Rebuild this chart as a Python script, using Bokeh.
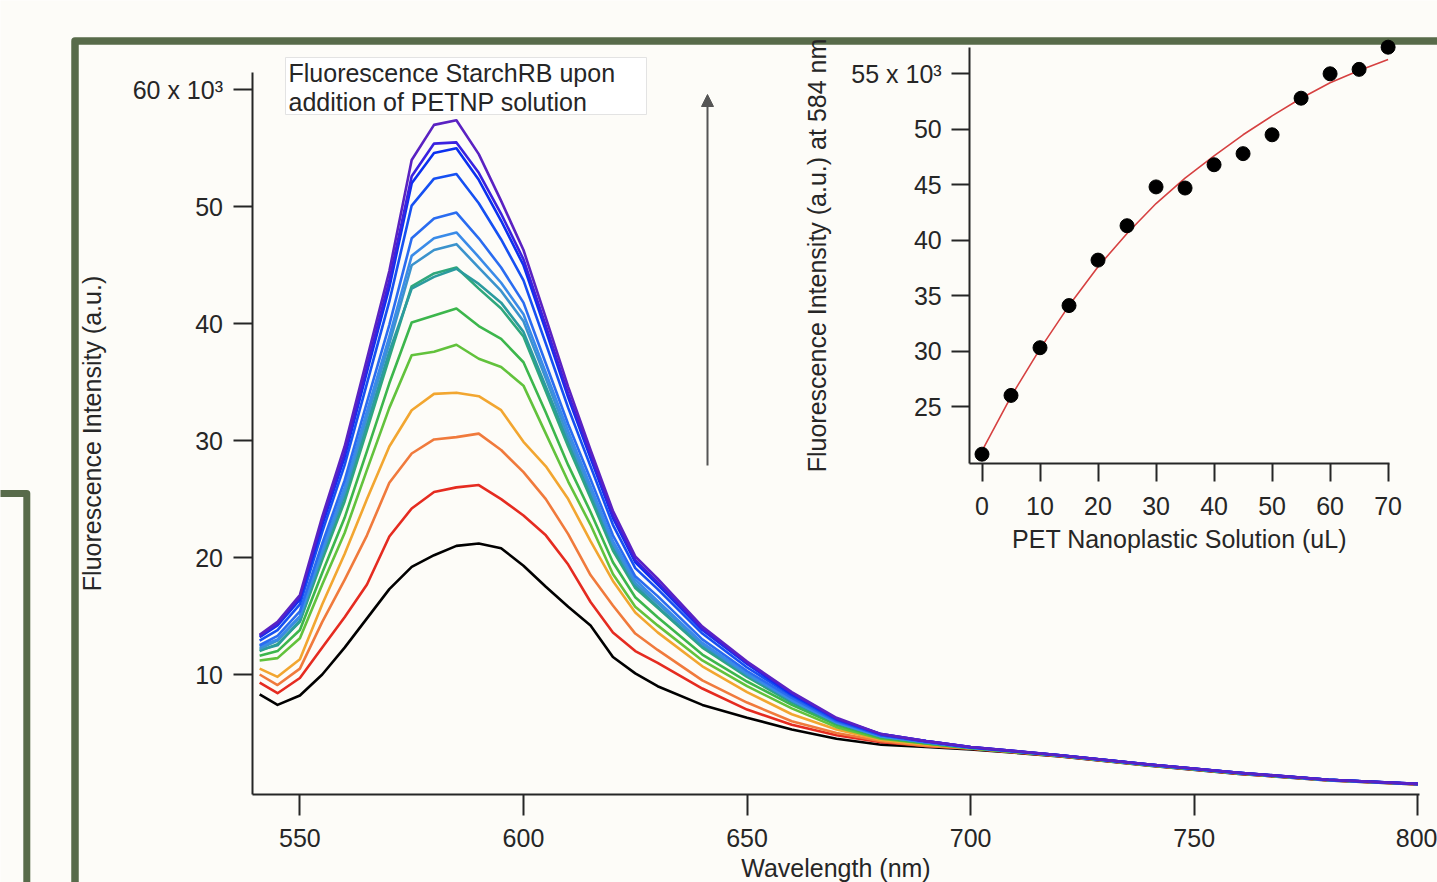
from bokeh.plotting import figure
from bokeh.models import Range1d, LinearAxis, FixedTicker, CustomJSTickFormatter, Arrow, NormalHead
from bokeh.embed import file_html
from bokeh.resources import INLINE
from bokeh.core.properties import value

# ---------------- data (intensities in units of 10^3 a.u.) ----------------
wavelength_nm = [541, 545, 550, 555, 560, 565, 570, 575, 580, 585, 590, 595, 600, 605, 610,
                 615, 620, 625, 630, 640, 650, 660, 670, 680, 690, 700, 720, 740, 760, 780, 800]

int_00uL = [8.3, 7.4, 8.2, 10.0, 12.3, 14.8, 17.3, 19.2, 20.2, 21.0, 21.2, 20.8, 19.3, 17.5, 15.8,
            14.2, 11.5, 10.1, 9.0, 7.4, 6.3, 5.3, 4.5, 4.0, 3.8, 3.6, 3.0, 2.2, 1.5, 0.95, 0.6]
int_05uL = [9.3, 8.4, 9.7, 12.3, 14.9, 17.7, 21.8, 24.2, 25.6, 26.0, 26.2, 25.0, 23.6, 21.9, 19.4,
            16.2, 13.6, 12.0, 11.0, 8.8, 7.0, 5.7, 4.8, 4.2, 3.9, 3.65, 3.02, 2.22, 1.52, 0.96, 0.61]
int_10uL = [10.0, 9.1, 10.5, 14.5, 18.1, 21.9, 26.4, 28.9, 30.1, 30.3, 30.6, 29.2, 27.3, 25.0, 22.0,
            18.5, 15.9, 13.5, 12.1, 9.5, 7.6, 6.0, 5.0, 4.3, 3.9, 3.68, 3.04, 2.24, 1.54, 0.97, 0.62]
int_15uL = [10.5, 9.8, 11.3, 16.0, 20.3, 25.0, 29.5, 32.6, 34.0, 34.1, 33.8, 32.6, 29.9, 27.8, 25.0,
            21.4, 18.0, 15.3, 13.6, 10.7, 8.5, 6.6, 5.3, 4.4, 4.0, 3.7, 3.05, 2.25, 1.55, 0.98, 0.63]
int_20uL = [11.2, 11.4, 13.1, 17.7, 22.1, 27.5, 32.8, 37.3, 37.6, 38.2, 37.0, 36.3, 34.7, 30.6, 26.5,
            22.8, 18.6, 15.8, 14.2, 11.2, 9.0, 7.1, 5.5, 4.5, 4.1, 3.7, 3.05, 2.25, 1.55, 0.98, 0.63]
int_25uL = [11.6, 12.0, 13.8, 18.7, 23.4, 29.1, 34.9, 40.1, 40.7, 41.3, 39.8, 38.7, 36.7, 32.4, 27.9,
            23.9, 19.6, 16.6, 14.9, 11.7, 9.4, 7.4, 5.7, 4.6, 4.1, 3.7, 3.05, 2.25, 1.55, 0.98, 0.63]
int_30uL = [12.0, 12.6, 14.5, 19.8, 24.8, 30.9, 37.1, 43.2, 44.3, 44.8, 43.0, 41.3, 38.9, 34.2, 29.5,
            25.1, 20.6, 17.4, 15.7, 12.3, 9.8, 7.6, 5.8, 4.7, 4.2, 3.75, 3.07, 2.27, 1.57, 0.99, 0.64]
int_35uL = [12.1, 12.5, 14.6, 20.2, 25.3, 31.4, 37.6, 43.0, 44.0, 44.7, 43.4, 41.8, 39.3, 34.6, 29.9,
            25.4, 20.9, 17.6, 15.8, 12.4, 9.9, 7.7, 5.9, 4.7, 4.2, 3.75, 3.07, 2.27, 1.57, 0.99, 0.64]
int_40uL = [12.2, 12.9, 14.9, 20.4, 25.6, 32.0, 38.3, 45.0, 46.3, 46.8, 44.8, 42.8, 40.2, 35.3, 30.3,
            25.8, 21.2, 17.8, 16.1, 12.6, 10.0, 7.8, 5.9, 4.7, 4.2, 3.75, 3.08, 2.28, 1.58, 0.99, 0.64]
int_45uL = [12.4, 13.0, 15.0, 20.7, 26.0, 32.5, 38.9, 45.8, 47.3, 47.8, 45.7, 43.5, 40.8, 35.8, 30.8,
            26.1, 21.4, 18.1, 16.3, 12.7, 10.1, 7.8, 5.9, 4.7, 4.2, 3.76, 3.08, 2.28, 1.58, 0.99, 0.64]
int_50uL = [12.5, 13.3, 15.4, 21.2, 26.6, 33.3, 39.9, 47.3, 49.0, 49.5, 47.3, 44.8, 41.8, 36.6, 31.4,
            26.7, 21.9, 18.4, 16.7, 13.0, 10.3, 8.0, 6.0, 4.8, 4.2, 3.77, 3.09, 2.29, 1.59, 0.99, 0.64]
int_55uL = [12.9, 13.8, 16.0, 22.2, 27.9, 34.9, 41.9, 50.1, 52.4, 52.8, 50.3, 47.2, 43.7, 38.3, 32.8,
            27.8, 22.8, 19.1, 17.3, 13.5, 10.6, 8.2, 6.1, 4.8, 4.3, 3.78, 3.09, 2.29, 1.59, 1.0, 0.65]
int_60uL = [13.2, 14.2, 16.4, 22.8, 28.6, 35.9, 43.1, 52.0, 54.6, 55.0, 52.3, 48.8, 45.0, 39.4, 33.7,
            28.5, 23.4, 19.6, 17.7, 13.8, 10.9, 8.3, 6.2, 4.9, 4.3, 3.79, 3.1, 2.3, 1.6, 1.0, 0.65]
int_65uL = [13.3, 14.3, 16.6, 23.1, 28.9, 36.3, 43.7, 52.6, 55.4, 55.5, 52.9, 49.4, 45.5, 39.8, 34.0,
            28.8, 23.6, 19.8, 17.9, 13.9, 11.0, 8.4, 6.2, 4.9, 4.3, 3.79, 3.1, 2.3, 1.6, 1.0, 0.65]
int_70uL = [13.4, 14.5, 16.8, 23.5, 29.5, 37.0, 44.5, 54.0, 57.0, 57.4, 54.5, 50.5, 46.3, 40.5, 34.6,
            29.2, 24.0, 20.1, 18.2, 14.1, 11.1, 8.5, 6.3, 4.9, 4.3, 3.8, 3.1, 2.3, 1.6, 1.0, 0.65]

spectra = [int_00uL, int_05uL, int_10uL, int_15uL, int_20uL, int_25uL, int_30uL, int_35uL,
           int_40uL, int_45uL, int_50uL, int_55uL, int_60uL, int_65uL, int_70uL]
spectrum_colors = ["#000000", "#e52b20", "#f07a3c", "#f2a630", "#62c23c", "#3cb64c", "#2fa77c",
                   "#2b9b9e", "#3b93cc", "#3a8be8", "#2a6cf0", "#1650f2", "#0b30f0", "#3a22e0", "#5a22c2"]

# inset: intensity at 584 nm vs added volume
volume_uL = [0, 5, 10, 15, 20, 25, 30, 35, 40, 45, 50, 55, 60, 65, 70]
peak_584_k = [20.7, 26.0, 30.3, 34.1, 38.2, 41.3, 44.8, 44.7, 46.8, 47.8, 49.5, 52.8, 55.0, 55.4, 57.4]
fit_584_k = [21.0, 25.9, 30.2, 34.1, 37.6, 40.6, 43.3, 45.6, 47.6, 49.5, 51.2, 52.8, 54.2, 55.3, 56.3]

main_x_ticks = [550, 600, 650, 700, 750, 800]
main_y_ticks = [10, 20, 30, 40, 50, 60]
inset_x_ticks = [0, 10, 20, 30, 40, 50, 60, 70]
inset_y_ticks = [25, 30, 35, 40, 45, 50, 55]

# ---------------- layout (picture pixels) ----------------
PX_L, PX_R, PX_T, PX_B = 0, 1437, 0, 882   # canvas area


def lin(p0, v0, p1, v1):
    s = (v1 - v0) / (p1 - p0)
    return lambda px: v0 + (px - p0) * s


wl_of = lin(299.4, 550, 1417.3, 800)
int_of = lin(674.0, 10, 89.3, 60)
ul_of = lin(981.5, 0, 1387.6, 70)
iy_of = lin(406.0, 25, 73.3, 55)

BG = "#fdfcf8"
FONT = "Liberation Sans"
FS = "25px"
INK = "#262626"

p = figure(width=PX_R - PX_L, height=PX_B - PX_T, output_backend="svg", toolbar_location=None,
           x_range=Range1d(PX_L, PX_R), y_range=Range1d(PX_B, PX_T),
           x_axis_type=None, y_axis_type=None, min_border=0,
           background_fill_color=BG, border_fill_color=BG, outline_line_color=None)
p.grid.visible = False

p.extra_x_ranges = {"wl": Range1d(wl_of(PX_L), wl_of(PX_R)), "ul": Range1d(ul_of(PX_L), ul_of(PX_R))}
p.extra_y_ranges = {"inten": Range1d(int_of(PX_B), int_of(PX_T)), "iy": Range1d(iy_of(PX_B), iy_of(PX_T))}

# slide decoration (green frames)
GREEN = "#586b4a"
p.line([74.5, 74.5, 1460], [900, 40.5, 40.5], line_width=7.5, line_color=GREEN, line_join="round")
p.line([-10, 26.3, 26.3], [493, 493, 900], line_width=7, line_color=GREEN, line_join="round")


def style_axis(ax, tick_out, standoff, label_standoff):
    ax.axis_line_width = 2
    ax.axis_line_color = INK
    ax.major_tick_line_width = 2
    ax.major_tick_line_color = INK
    ax.major_tick_out = tick_out
    ax.major_tick_in = 0
    ax.minor_tick_line_color = None
    ax.major_label_text_font = FONT
    ax.major_label_text_font_size = FS
    ax.major_label_text_color = INK
    ax.major_label_standoff = standoff
    ax.axis_label_text_font = FONT
    ax.axis_label_text_font_size = FS
    ax.axis_label_text_font_style = "normal"
    ax.axis_label_text_color = INK
    ax.axis_label_standoff = label_standoff


# main axes
ax_main_y = LinearAxis(x_range_name="wl", y_range_name="inten", fixed_location=wl_of(251.5),
                       bounds=(int_of(794.3), int_of(71.7)),
                       ticker=FixedTicker(ticks=main_y_ticks),
                       formatter=CustomJSTickFormatter(code="return tick == 60 ? '60 x 10\u00b3' : String(tick)"),
                       axis_label="Fluorescence Intensity (a.u.)")
style_axis(ax_main_y, 19, 10, 24)
p.add_layout(ax_main_y, "left")

ax_main_x = LinearAxis(x_range_name="wl", y_range_name="inten", fixed_location=int_of(794.3),
                       bounds=(wl_of(251.5), wl_of(1418.5)),
                       ticker=FixedTicker(ticks=main_x_ticks),
                       axis_label="Wavelength (nm)")
style_axis(ax_main_x, 21, 13, 4)
p.add_layout(ax_main_x, "below")

# inset axes
ax_in_y = LinearAxis(x_range_name="ul", y_range_name="iy", fixed_location=ul_of(969.2),
                     bounds=(iy_of(463.3), iy_of(46.7)),
                     ticker=FixedTicker(ticks=inset_y_ticks),
                     formatter=CustomJSTickFormatter(code="return tick == 55 ? '55 x 10\u00b3' : String(tick)"),
                     axis_label="Fluorescence Intensity (a.u.) at 584 nm")
style_axis(ax_in_y, 18, 10, 17)
p.add_layout(ax_in_y, "left")

ax_in_x = LinearAxis(x_range_name="ul", y_range_name="iy", fixed_location=iy_of(463.3),
                     bounds=(ul_of(969.2), ul_of(1388.5)),
                     ticker=FixedTicker(ticks=inset_x_ticks),
                     axis_label="PET Nanoplastic Solution (uL)")
style_axis(ax_in_x, 18, 15, 7)
p.add_layout(ax_in_x, "below")

# spectra
for ys, c in zip(spectra, spectrum_colors):
    p.line(wavelength_nm, ys, line_color=c, line_width=2.6, line_join="round",
           x_range_name="wl", y_range_name="inten")

# inset fit and points
p.line(volume_uL, fit_584_k, line_color="#d64141", line_width=1.6, x_range_name="ul", y_range_name="iy")
p.scatter(volume_uL, peak_584_k, size=14, fill_color="#000000", line_color="#000000",
          x_range_name="ul", y_range_name="iy")

# annotation box
p.quad(left=[285], right=[646], top=[57], bottom=[114], fill_color="#ffffff", line_color="#e3e3e3", line_width=1)
p.text(x=[288], y=[58], text=["Fluorescence StarchRB upon\naddition of PETNP solution"],
       text_font=value(FONT), text_font_size=FS, text_color=INK, text_align="left",
       text_baseline="top", text_line_height=1.05)

# arrow
p.add_layout(Arrow(end=NormalHead(size=12, fill_color="#555555", line_color="#555555"),
                   x_start=707, y_start=465, x_end=707, y_end=94,
                   line_color="#555555", line_width=2))

open("out.html", "w").write(file_html(p, INLINE))
